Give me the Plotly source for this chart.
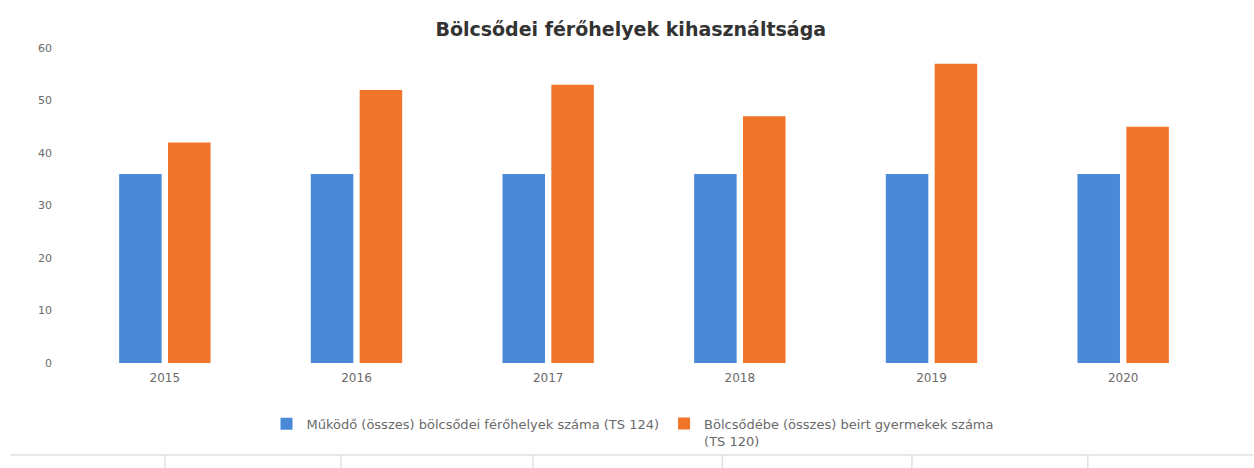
import plotly.graph_objects as go

years = ["2015", "2016", "2017", "2018", "2019", "2020"]
ferohelyek = [36, 36, 36, 36, 36, 36]
beirt_gyermekek = [42, 52, 53, 47, 57, 45]

series_names = [
    "Működő (összes) bölcsődei férőhelyek száma (TS 124)",
    "Bölcsődébe (összes) beirt gyermekek száma<br>(TS 120)",
]
title_text = "Bölcsődei férőhelyek kihasználtsága"
y_ticks = [0, 10, 20, 30, 40, 50, 60]

BLUE = "#4b89d8"
ORANGE = "#f0742a"
FONT = "DejaVu Sans, Verdana, sans-serif"
TICK_GREY = "#6a6a6a"

fig = go.Figure()
fig.add_trace(go.Bar(x=years, y=ferohelyek, name=series_names[0],
                     marker=dict(color=BLUE, line_width=0)))
fig.add_trace(go.Bar(x=years, y=beirt_gyermekek, name=series_names[1],
                     marker=dict(color=ORANGE, line_width=0)))

fig.update_layout(
    width=1254, height=468,
    margin=dict(l=69, r=35, t=48, b=105),
    paper_bgcolor="white", plot_bgcolor="white",
    barmode="group", bargap=0.49, bargroupgap=0.13,
    title=dict(text="<b>" + title_text + "</b>", x=0.503, xanchor="center",
               y=0.937, yanchor="middle",
               font=dict(family=FONT, size=19, color="#333333")),
    font=dict(family=FONT, size=11, color=TICK_GREY),
    showlegend=True,
    legend=dict(orientation="h", x=0.49, xanchor="center", y=-0.145, yanchor="top",
                valign="top", bgcolor="rgba(0,0,0,0)",
                font=dict(family=FONT, size=13, color=TICK_GREY),
                itemwidth=30, traceorder="normal"),
    xaxis=dict(showgrid=False, showline=False, ticks="", zeroline=False,
               ticklabelstandoff=6,
               tickfont=dict(size=12, color=TICK_GREY)),
    yaxis=dict(range=[0, 60], tickvals=y_ticks, showgrid=False, showline=False,
               zeroline=False, ticks="", ticklabelstandoff=16,
               tickfont=dict(size=11, color=TICK_GREY)),
    shapes=[
        dict(type="line", xref="paper", yref="paper", x0=-0.051, x1=1.03,
             y0=-0.292, y1=-0.292, line=dict(color="#d0d0d0", width=1)),
    ] + [
        dict(type="line", xref="paper", yref="paper", x0=px, x1=px,
             y0=-0.292, y1=-0.34, line=dict(color="#d0d0d0", width=1))
        for px in [0.0835, 0.2365, 0.4035, 0.568, 0.733, 0.886]
    ],
)

fig.write_html("out.html")
